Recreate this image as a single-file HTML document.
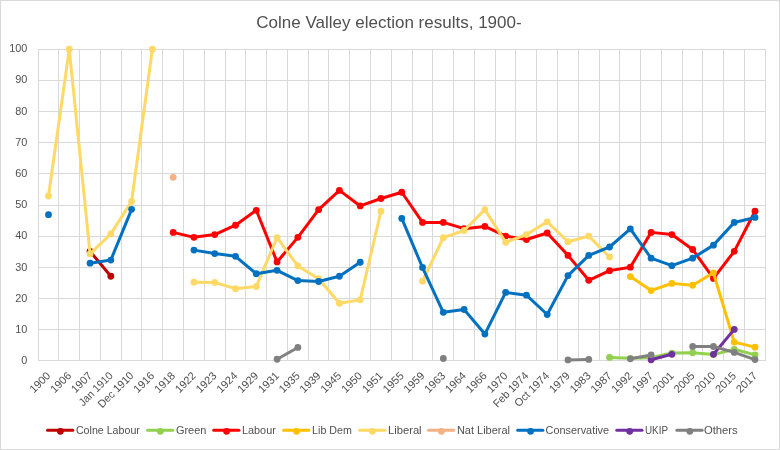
<!DOCTYPE html>
<html><head><meta charset="utf-8"><title>Colne Valley election results</title>
<style>html,body{margin:0;padding:0;background:#fff;}body{width:780px;height:450px;overflow:hidden;}svg{display:block;}</style>
</head><body>
<svg width="780" height="450" viewBox="0 0 780 450">
<rect x="0" y="0" width="780" height="450" fill="#fff"/>
<rect x="0.5" y="0.5" width="779" height="449" fill="none" stroke="#D9D9D9" stroke-width="1"/>
<path d="M38 49.5H766 M38 80.5H766 M38 111.5H766 M38 142.5H766 M38 173.5H766 M38 205.5H766 M38 236.5H766 M38 267.5H766 M38 298.5H766 M38 329.5H766 M38 360.5H766 M38.5 49V360 M58.5 49V360 M79.5 49V360 M100.5 49V360 M121.5 49V360 M141.5 49V360 M162.5 49V360 M183.5 49V360 M204.5 49V360 M225.5 49V360 M245.5 49V360 M266.5 49V360 M287.5 49V360 M308.5 49V360 M328.5 49V360 M349.5 49V360 M370.5 49V360 M391.5 49V360 M412.5 49V360 M432.5 49V360 M453.5 49V360 M474.5 49V360 M495.5 49V360 M515.5 49V360 M536.5 49V360 M557.5 49V360 M578.5 49V360 M599.5 49V360 M619.5 49V360 M640.5 49V360 M661.5 49V360 M682.5 49V360 M702.5 49V360 M723.5 49V360 M744.5 49V360 M765.5 49V360" stroke="#D9D9D9" stroke-width="1" fill="none" shape-rendering="crispEdges"/>
<path d="M90.05 251.35 L110.83 276.23" stroke="#C00000" stroke-width="3.0" fill="none" stroke-linejoin="round" stroke-linecap="round"/>
<circle cx="90.05" cy="251.35" r="3.4" fill="#C00000"/>
<circle cx="110.83" cy="276.23" r="3.4" fill="#C00000"/>
<path d="M609.55 357.40 L630.33 358.33 L651.11 357.71 L671.89 353.05 L692.67 352.74 L713.45 354.60 L734.23 349.31 L755.01 354.91" stroke="#92D050" stroke-width="3.0" fill="none" stroke-linejoin="round" stroke-linecap="round"/>
<circle cx="609.55" cy="357.40" r="3.4" fill="#92D050"/>
<circle cx="630.33" cy="358.33" r="3.4" fill="#92D050"/>
<circle cx="651.11" cy="357.71" r="3.4" fill="#92D050"/>
<circle cx="671.89" cy="353.05" r="3.4" fill="#92D050"/>
<circle cx="692.67" cy="352.74" r="3.4" fill="#92D050"/>
<circle cx="713.45" cy="354.60" r="3.4" fill="#92D050"/>
<circle cx="734.23" cy="349.31" r="3.4" fill="#92D050"/>
<circle cx="755.01" cy="354.91" r="3.4" fill="#92D050"/>
<path d="M173.17 232.38 L193.95 237.35 L214.73 234.56 L235.51 225.23 L256.29 210.30 L277.07 261.92 L297.85 237.35 L318.63 209.68 L339.41 190.39 L360.19 205.94 L380.97 198.48 L401.75 192.26 L422.53 222.43 L443.31 222.43 L464.09 228.65 L484.87 226.47 L505.65 236.11 L526.43 239.53 L547.21 233.00 L567.99 255.39 L588.77 280.27 L609.55 270.63 L630.33 267.21 L651.11 232.38 L671.89 234.56 L692.67 249.48 L713.45 278.41 L734.23 251.35 L755.01 211.23" stroke="#FF0000" stroke-width="3.0" fill="none" stroke-linejoin="round" stroke-linecap="round"/>
<circle cx="173.17" cy="232.38" r="3.4" fill="#FF0000"/>
<circle cx="193.95" cy="237.35" r="3.4" fill="#FF0000"/>
<circle cx="214.73" cy="234.56" r="3.4" fill="#FF0000"/>
<circle cx="235.51" cy="225.23" r="3.4" fill="#FF0000"/>
<circle cx="256.29" cy="210.30" r="3.4" fill="#FF0000"/>
<circle cx="277.07" cy="261.92" r="3.4" fill="#FF0000"/>
<circle cx="297.85" cy="237.35" r="3.4" fill="#FF0000"/>
<circle cx="318.63" cy="209.68" r="3.4" fill="#FF0000"/>
<circle cx="339.41" cy="190.39" r="3.4" fill="#FF0000"/>
<circle cx="360.19" cy="205.94" r="3.4" fill="#FF0000"/>
<circle cx="380.97" cy="198.48" r="3.4" fill="#FF0000"/>
<circle cx="401.75" cy="192.26" r="3.4" fill="#FF0000"/>
<circle cx="422.53" cy="222.43" r="3.4" fill="#FF0000"/>
<circle cx="443.31" cy="222.43" r="3.4" fill="#FF0000"/>
<circle cx="464.09" cy="228.65" r="3.4" fill="#FF0000"/>
<circle cx="484.87" cy="226.47" r="3.4" fill="#FF0000"/>
<circle cx="505.65" cy="236.11" r="3.4" fill="#FF0000"/>
<circle cx="526.43" cy="239.53" r="3.4" fill="#FF0000"/>
<circle cx="547.21" cy="233.00" r="3.4" fill="#FF0000"/>
<circle cx="567.99" cy="255.39" r="3.4" fill="#FF0000"/>
<circle cx="588.77" cy="280.27" r="3.4" fill="#FF0000"/>
<circle cx="609.55" cy="270.63" r="3.4" fill="#FF0000"/>
<circle cx="630.33" cy="267.21" r="3.4" fill="#FF0000"/>
<circle cx="651.11" cy="232.38" r="3.4" fill="#FF0000"/>
<circle cx="671.89" cy="234.56" r="3.4" fill="#FF0000"/>
<circle cx="692.67" cy="249.48" r="3.4" fill="#FF0000"/>
<circle cx="713.45" cy="278.41" r="3.4" fill="#FF0000"/>
<circle cx="734.23" cy="251.35" r="3.4" fill="#FF0000"/>
<circle cx="755.01" cy="211.23" r="3.4" fill="#FF0000"/>
<path d="M630.33 276.54 L651.11 290.54 L671.89 283.38 L692.67 285.25 L713.45 272.81 L734.23 342.16 L755.01 347.14" stroke="#FFC000" stroke-width="3.0" fill="none" stroke-linejoin="round" stroke-linecap="round"/>
<circle cx="630.33" cy="276.54" r="3.4" fill="#FFC000"/>
<circle cx="651.11" cy="290.54" r="3.4" fill="#FFC000"/>
<circle cx="671.89" cy="283.38" r="3.4" fill="#FFC000"/>
<circle cx="692.67" cy="285.25" r="3.4" fill="#FFC000"/>
<circle cx="713.45" cy="272.81" r="3.4" fill="#FFC000"/>
<circle cx="734.23" cy="342.16" r="3.4" fill="#FFC000"/>
<circle cx="755.01" cy="347.14" r="3.4" fill="#FFC000"/>
<path d="M48.49 195.99 L69.27 49.20 L90.05 253.84 L110.83 233.93 L131.61 201.28 L152.39 49.20" stroke="#FFD966" stroke-width="3.0" fill="none" stroke-linejoin="round" stroke-linecap="round"/>
<path d="M193.95 282.14 L214.73 282.45 L235.51 288.67 L256.29 286.49 L277.07 237.67 L297.85 265.97 L318.63 278.72 L339.41 303.29 L360.19 299.87 L380.97 211.23" stroke="#FFD966" stroke-width="3.0" fill="none" stroke-linejoin="round" stroke-linecap="round"/>
<path d="M422.53 281.21 L443.31 237.67 L464.09 230.51 L484.87 209.68 L505.65 242.33 L526.43 234.56 L547.21 221.80 L567.99 241.71 L588.77 236.11 L609.55 256.95" stroke="#FFD966" stroke-width="3.0" fill="none" stroke-linejoin="round" stroke-linecap="round"/>
<circle cx="48.49" cy="195.99" r="3.4" fill="#FFD966"/>
<circle cx="69.27" cy="49.20" r="3.4" fill="#FFD966"/>
<circle cx="90.05" cy="253.84" r="3.4" fill="#FFD966"/>
<circle cx="110.83" cy="233.93" r="3.4" fill="#FFD966"/>
<circle cx="131.61" cy="201.28" r="3.4" fill="#FFD966"/>
<circle cx="152.39" cy="49.20" r="3.4" fill="#FFD966"/>
<circle cx="193.95" cy="282.14" r="3.4" fill="#FFD966"/>
<circle cx="214.73" cy="282.45" r="3.4" fill="#FFD966"/>
<circle cx="235.51" cy="288.67" r="3.4" fill="#FFD966"/>
<circle cx="256.29" cy="286.49" r="3.4" fill="#FFD966"/>
<circle cx="277.07" cy="237.67" r="3.4" fill="#FFD966"/>
<circle cx="297.85" cy="265.97" r="3.4" fill="#FFD966"/>
<circle cx="318.63" cy="278.72" r="3.4" fill="#FFD966"/>
<circle cx="339.41" cy="303.29" r="3.4" fill="#FFD966"/>
<circle cx="360.19" cy="299.87" r="3.4" fill="#FFD966"/>
<circle cx="380.97" cy="211.23" r="3.4" fill="#FFD966"/>
<circle cx="422.53" cy="281.21" r="3.4" fill="#FFD966"/>
<circle cx="443.31" cy="237.67" r="3.4" fill="#FFD966"/>
<circle cx="464.09" cy="230.51" r="3.4" fill="#FFD966"/>
<circle cx="484.87" cy="209.68" r="3.4" fill="#FFD966"/>
<circle cx="505.65" cy="242.33" r="3.4" fill="#FFD966"/>
<circle cx="526.43" cy="234.56" r="3.4" fill="#FFD966"/>
<circle cx="547.21" cy="221.80" r="3.4" fill="#FFD966"/>
<circle cx="567.99" cy="241.71" r="3.4" fill="#FFD966"/>
<circle cx="588.77" cy="236.11" r="3.4" fill="#FFD966"/>
<circle cx="609.55" cy="256.95" r="3.4" fill="#FFD966"/>
<circle cx="173.17" cy="177.33" r="3.4" fill="#F4B183"/>
<path d="M90.05 263.17 L110.83 260.06 L131.61 209.36" stroke="#0070C0" stroke-width="3.0" fill="none" stroke-linejoin="round" stroke-linecap="round"/>
<path d="M193.95 250.11 L214.73 253.53 L235.51 256.33 L256.29 273.74 L277.07 270.32 L297.85 280.58 L318.63 281.52 L339.41 276.23 L360.19 262.24" stroke="#0070C0" stroke-width="3.0" fill="none" stroke-linejoin="round" stroke-linecap="round"/>
<path d="M401.75 218.38 L422.53 267.52 L443.31 312.31 L464.09 309.51 L484.87 334.08 L505.65 292.40 L526.43 295.20 L547.21 314.48 L567.99 275.61 L588.77 255.39 L609.55 247.00 L630.33 228.96 L651.11 258.19 L671.89 265.66 L692.67 258.19 L713.45 245.13 L734.23 222.43 L755.01 217.45" stroke="#0070C0" stroke-width="3.0" fill="none" stroke-linejoin="round" stroke-linecap="round"/>
<circle cx="48.49" cy="214.65" r="3.4" fill="#0070C0"/>
<circle cx="90.05" cy="263.17" r="3.4" fill="#0070C0"/>
<circle cx="110.83" cy="260.06" r="3.4" fill="#0070C0"/>
<circle cx="131.61" cy="209.36" r="3.4" fill="#0070C0"/>
<circle cx="193.95" cy="250.11" r="3.4" fill="#0070C0"/>
<circle cx="214.73" cy="253.53" r="3.4" fill="#0070C0"/>
<circle cx="235.51" cy="256.33" r="3.4" fill="#0070C0"/>
<circle cx="256.29" cy="273.74" r="3.4" fill="#0070C0"/>
<circle cx="277.07" cy="270.32" r="3.4" fill="#0070C0"/>
<circle cx="297.85" cy="280.58" r="3.4" fill="#0070C0"/>
<circle cx="318.63" cy="281.52" r="3.4" fill="#0070C0"/>
<circle cx="339.41" cy="276.23" r="3.4" fill="#0070C0"/>
<circle cx="360.19" cy="262.24" r="3.4" fill="#0070C0"/>
<circle cx="401.75" cy="218.38" r="3.4" fill="#0070C0"/>
<circle cx="422.53" cy="267.52" r="3.4" fill="#0070C0"/>
<circle cx="443.31" cy="312.31" r="3.4" fill="#0070C0"/>
<circle cx="464.09" cy="309.51" r="3.4" fill="#0070C0"/>
<circle cx="484.87" cy="334.08" r="3.4" fill="#0070C0"/>
<circle cx="505.65" cy="292.40" r="3.4" fill="#0070C0"/>
<circle cx="526.43" cy="295.20" r="3.4" fill="#0070C0"/>
<circle cx="547.21" cy="314.48" r="3.4" fill="#0070C0"/>
<circle cx="567.99" cy="275.61" r="3.4" fill="#0070C0"/>
<circle cx="588.77" cy="255.39" r="3.4" fill="#0070C0"/>
<circle cx="609.55" cy="247.00" r="3.4" fill="#0070C0"/>
<circle cx="630.33" cy="228.96" r="3.4" fill="#0070C0"/>
<circle cx="651.11" cy="258.19" r="3.4" fill="#0070C0"/>
<circle cx="671.89" cy="265.66" r="3.4" fill="#0070C0"/>
<circle cx="692.67" cy="258.19" r="3.4" fill="#0070C0"/>
<circle cx="713.45" cy="245.13" r="3.4" fill="#0070C0"/>
<circle cx="734.23" cy="222.43" r="3.4" fill="#0070C0"/>
<circle cx="755.01" cy="217.45" r="3.4" fill="#0070C0"/>
<path d="M651.11 359.73 L671.89 354.29" stroke="#7030A0" stroke-width="3.0" fill="none" stroke-linejoin="round" stroke-linecap="round"/>
<path d="M713.45 354.29 L734.23 329.41" stroke="#7030A0" stroke-width="3.0" fill="none" stroke-linejoin="round" stroke-linecap="round"/>
<circle cx="651.11" cy="359.73" r="3.4" fill="#7030A0"/>
<circle cx="671.89" cy="354.29" r="3.4" fill="#7030A0"/>
<circle cx="713.45" cy="354.29" r="3.4" fill="#7030A0"/>
<circle cx="734.23" cy="329.41" r="3.4" fill="#7030A0"/>
<path d="M277.07 359.27 L297.85 347.45" stroke="#808080" stroke-width="3.0" fill="none" stroke-linejoin="round" stroke-linecap="round"/>
<path d="M567.99 359.89 L588.77 359.42" stroke="#808080" stroke-width="3.0" fill="none" stroke-linejoin="round" stroke-linecap="round"/>
<path d="M630.33 358.80 L651.11 354.91" stroke="#808080" stroke-width="3.0" fill="none" stroke-linejoin="round" stroke-linecap="round"/>
<path d="M692.67 346.52 L713.45 346.52 L734.23 352.43 L755.01 359.58" stroke="#808080" stroke-width="3.0" fill="none" stroke-linejoin="round" stroke-linecap="round"/>
<circle cx="277.07" cy="359.27" r="3.4" fill="#808080"/>
<circle cx="297.85" cy="347.45" r="3.4" fill="#808080"/>
<circle cx="443.31" cy="358.49" r="3.4" fill="#808080"/>
<circle cx="567.99" cy="359.89" r="3.4" fill="#808080"/>
<circle cx="588.77" cy="359.42" r="3.4" fill="#808080"/>
<circle cx="630.33" cy="358.80" r="3.4" fill="#808080"/>
<circle cx="651.11" cy="354.91" r="3.4" fill="#808080"/>
<circle cx="692.67" cy="346.52" r="3.4" fill="#808080"/>
<circle cx="713.45" cy="346.52" r="3.4" fill="#808080"/>
<circle cx="734.23" cy="352.43" r="3.4" fill="#808080"/>
<circle cx="755.01" cy="359.58" r="3.4" fill="#808080"/>
<path d="M47.5 430.3H72.7" stroke="#C00000" stroke-width="3.0" stroke-linecap="round"/>
<circle cx="60.40" cy="431.3" r="3.4" fill="#C00000"/>
<path d="M147.5 430.3H172.7" stroke="#92D050" stroke-width="3.0" stroke-linecap="round"/>
<circle cx="160.40" cy="431.3" r="3.4" fill="#92D050"/>
<path d="M213.7 430.3H238.9" stroke="#FF0000" stroke-width="3.0" stroke-linecap="round"/>
<circle cx="226.60" cy="431.3" r="3.4" fill="#FF0000"/>
<path d="M283.6 430.3H308.8" stroke="#FFC000" stroke-width="3.0" stroke-linecap="round"/>
<circle cx="296.50" cy="431.3" r="3.4" fill="#FFC000"/>
<path d="M359.5 430.3H384.7" stroke="#FFD966" stroke-width="3.0" stroke-linecap="round"/>
<circle cx="372.40" cy="431.3" r="3.4" fill="#FFD966"/>
<path d="M428.5 430.3H453.7" stroke="#F4B183" stroke-width="3.0" stroke-linecap="round"/>
<circle cx="441.40" cy="431.3" r="3.4" fill="#F4B183"/>
<path d="M517.7 430.3H542.9" stroke="#0070C0" stroke-width="3.0" stroke-linecap="round"/>
<circle cx="530.60" cy="431.3" r="3.4" fill="#0070C0"/>
<path d="M616.8 430.3H642.0" stroke="#7030A0" stroke-width="3.0" stroke-linecap="round"/>
<circle cx="629.70" cy="431.3" r="3.4" fill="#7030A0"/>
<path d="M676.9 430.3H702.1" stroke="#808080" stroke-width="3.0" stroke-linecap="round"/>
<circle cx="689.80" cy="431.3" r="3.4" fill="#808080"/>
<g style="will-change:transform"><text x="256.2" y="27.7" textLength="265.5" lengthAdjust="spacingAndGlyphs" font-family="'Liberation Sans', Arial, sans-serif" font-size="16.6" fill="#505050">Colne Valley election results, 1900-</text><text x="27.3" y="364.10" text-anchor="end" font-family="'Liberation Sans', Arial, sans-serif" font-size="10.9" fill="#505050">0</text><text x="27.3" y="332.92" text-anchor="end" font-family="'Liberation Sans', Arial, sans-serif" font-size="10.9" fill="#505050">10</text><text x="27.3" y="301.74" text-anchor="end" font-family="'Liberation Sans', Arial, sans-serif" font-size="10.9" fill="#505050">20</text><text x="27.3" y="270.56" text-anchor="end" font-family="'Liberation Sans', Arial, sans-serif" font-size="10.9" fill="#505050">30</text><text x="27.3" y="239.38" text-anchor="end" font-family="'Liberation Sans', Arial, sans-serif" font-size="10.9" fill="#505050">40</text><text x="27.3" y="208.20" text-anchor="end" font-family="'Liberation Sans', Arial, sans-serif" font-size="10.9" fill="#505050">50</text><text x="27.3" y="177.02" text-anchor="end" font-family="'Liberation Sans', Arial, sans-serif" font-size="10.9" fill="#505050">60</text><text x="27.3" y="145.84" text-anchor="end" font-family="'Liberation Sans', Arial, sans-serif" font-size="10.9" fill="#505050">70</text><text x="27.3" y="114.66" text-anchor="end" font-family="'Liberation Sans', Arial, sans-serif" font-size="10.9" fill="#505050">80</text><text x="27.3" y="83.48" text-anchor="end" font-family="'Liberation Sans', Arial, sans-serif" font-size="10.9" fill="#505050">90</text><text x="27.3" y="52.30" text-anchor="end" font-family="'Liberation Sans', Arial, sans-serif" font-size="10.9" fill="#505050">100</text><text transform="translate(45.79 371.00) rotate(-45)" text-anchor="end" dy="7.6" textLength="24.34" lengthAdjust="spacingAndGlyphs" font-family="'Liberation Sans', Arial, sans-serif" font-size="11" fill="#505050">1900</text><text transform="translate(66.57 371.00) rotate(-45)" text-anchor="end" dy="7.6" textLength="24.34" lengthAdjust="spacingAndGlyphs" font-family="'Liberation Sans', Arial, sans-serif" font-size="11" fill="#505050">1906</text><text transform="translate(87.35 371.00) rotate(-45)" text-anchor="end" dy="7.6" textLength="24.34" lengthAdjust="spacingAndGlyphs" font-family="'Liberation Sans', Arial, sans-serif" font-size="11" fill="#505050">1907</text><text transform="translate(108.13 371.00) rotate(-45)" text-anchor="end" dy="7.6" textLength="42.92" lengthAdjust="spacingAndGlyphs" font-family="'Liberation Sans', Arial, sans-serif" font-size="11" fill="#505050">Jan 1910</text><text transform="translate(128.91 371.00) rotate(-45)" text-anchor="end" dy="7.6" textLength="45.48" lengthAdjust="spacingAndGlyphs" font-family="'Liberation Sans', Arial, sans-serif" font-size="11" fill="#505050">Dec 1910</text><text transform="translate(149.69 371.00) rotate(-45)" text-anchor="end" dy="7.6" textLength="24.34" lengthAdjust="spacingAndGlyphs" font-family="'Liberation Sans', Arial, sans-serif" font-size="11" fill="#505050">1916</text><text transform="translate(170.47 371.00) rotate(-45)" text-anchor="end" dy="7.6" textLength="24.34" lengthAdjust="spacingAndGlyphs" font-family="'Liberation Sans', Arial, sans-serif" font-size="11" fill="#505050">1918</text><text transform="translate(191.25 371.00) rotate(-45)" text-anchor="end" dy="7.6" textLength="24.34" lengthAdjust="spacingAndGlyphs" font-family="'Liberation Sans', Arial, sans-serif" font-size="11" fill="#505050">1922</text><text transform="translate(212.03 371.00) rotate(-45)" text-anchor="end" dy="7.6" textLength="24.34" lengthAdjust="spacingAndGlyphs" font-family="'Liberation Sans', Arial, sans-serif" font-size="11" fill="#505050">1923</text><text transform="translate(232.81 371.00) rotate(-45)" text-anchor="end" dy="7.6" textLength="24.34" lengthAdjust="spacingAndGlyphs" font-family="'Liberation Sans', Arial, sans-serif" font-size="11" fill="#505050">1924</text><text transform="translate(253.59 371.00) rotate(-45)" text-anchor="end" dy="7.6" textLength="24.34" lengthAdjust="spacingAndGlyphs" font-family="'Liberation Sans', Arial, sans-serif" font-size="11" fill="#505050">1929</text><text transform="translate(274.37 371.00) rotate(-45)" text-anchor="end" dy="7.6" textLength="24.34" lengthAdjust="spacingAndGlyphs" font-family="'Liberation Sans', Arial, sans-serif" font-size="11" fill="#505050">1931</text><text transform="translate(295.15 371.00) rotate(-45)" text-anchor="end" dy="7.6" textLength="24.34" lengthAdjust="spacingAndGlyphs" font-family="'Liberation Sans', Arial, sans-serif" font-size="11" fill="#505050">1935</text><text transform="translate(315.93 371.00) rotate(-45)" text-anchor="end" dy="7.6" textLength="24.34" lengthAdjust="spacingAndGlyphs" font-family="'Liberation Sans', Arial, sans-serif" font-size="11" fill="#505050">1939</text><text transform="translate(336.71 371.00) rotate(-45)" text-anchor="end" dy="7.6" textLength="24.34" lengthAdjust="spacingAndGlyphs" font-family="'Liberation Sans', Arial, sans-serif" font-size="11" fill="#505050">1945</text><text transform="translate(357.49 371.00) rotate(-45)" text-anchor="end" dy="7.6" textLength="24.34" lengthAdjust="spacingAndGlyphs" font-family="'Liberation Sans', Arial, sans-serif" font-size="11" fill="#505050">1950</text><text transform="translate(378.27 371.00) rotate(-45)" text-anchor="end" dy="7.6" textLength="24.34" lengthAdjust="spacingAndGlyphs" font-family="'Liberation Sans', Arial, sans-serif" font-size="11" fill="#505050">1951</text><text transform="translate(399.05 371.00) rotate(-45)" text-anchor="end" dy="7.6" textLength="24.34" lengthAdjust="spacingAndGlyphs" font-family="'Liberation Sans', Arial, sans-serif" font-size="11" fill="#505050">1955</text><text transform="translate(419.83 371.00) rotate(-45)" text-anchor="end" dy="7.6" textLength="24.34" lengthAdjust="spacingAndGlyphs" font-family="'Liberation Sans', Arial, sans-serif" font-size="11" fill="#505050">1959</text><text transform="translate(440.61 371.00) rotate(-45)" text-anchor="end" dy="7.6" textLength="24.34" lengthAdjust="spacingAndGlyphs" font-family="'Liberation Sans', Arial, sans-serif" font-size="11" fill="#505050">1963</text><text transform="translate(461.39 371.00) rotate(-45)" text-anchor="end" dy="7.6" textLength="24.34" lengthAdjust="spacingAndGlyphs" font-family="'Liberation Sans', Arial, sans-serif" font-size="11" fill="#505050">1964</text><text transform="translate(482.17 371.00) rotate(-45)" text-anchor="end" dy="7.6" textLength="24.34" lengthAdjust="spacingAndGlyphs" font-family="'Liberation Sans', Arial, sans-serif" font-size="11" fill="#505050">1966</text><text transform="translate(502.95 371.00) rotate(-45)" text-anchor="end" dy="7.6" textLength="24.34" lengthAdjust="spacingAndGlyphs" font-family="'Liberation Sans', Arial, sans-serif" font-size="11" fill="#505050">1970</text><text transform="translate(523.73 371.00) rotate(-45)" text-anchor="end" dy="7.6" textLength="44.83" lengthAdjust="spacingAndGlyphs" font-family="'Liberation Sans', Arial, sans-serif" font-size="11" fill="#505050">Feb 1974</text><text transform="translate(544.51 371.00) rotate(-45)" text-anchor="end" dy="7.6" textLength="44.09" lengthAdjust="spacingAndGlyphs" font-family="'Liberation Sans', Arial, sans-serif" font-size="11" fill="#505050">Oct 1974</text><text transform="translate(565.29 371.00) rotate(-45)" text-anchor="end" dy="7.6" textLength="24.34" lengthAdjust="spacingAndGlyphs" font-family="'Liberation Sans', Arial, sans-serif" font-size="11" fill="#505050">1979</text><text transform="translate(586.07 371.00) rotate(-45)" text-anchor="end" dy="7.6" textLength="24.34" lengthAdjust="spacingAndGlyphs" font-family="'Liberation Sans', Arial, sans-serif" font-size="11" fill="#505050">1983</text><text transform="translate(606.85 371.00) rotate(-45)" text-anchor="end" dy="7.6" textLength="24.34" lengthAdjust="spacingAndGlyphs" font-family="'Liberation Sans', Arial, sans-serif" font-size="11" fill="#505050">1987</text><text transform="translate(627.63 371.00) rotate(-45)" text-anchor="end" dy="7.6" textLength="24.34" lengthAdjust="spacingAndGlyphs" font-family="'Liberation Sans', Arial, sans-serif" font-size="11" fill="#505050">1992</text><text transform="translate(648.41 371.00) rotate(-45)" text-anchor="end" dy="7.6" textLength="24.34" lengthAdjust="spacingAndGlyphs" font-family="'Liberation Sans', Arial, sans-serif" font-size="11" fill="#505050">1997</text><text transform="translate(669.19 371.00) rotate(-45)" text-anchor="end" dy="7.6" textLength="24.34" lengthAdjust="spacingAndGlyphs" font-family="'Liberation Sans', Arial, sans-serif" font-size="11" fill="#505050">2001</text><text transform="translate(689.97 371.00) rotate(-45)" text-anchor="end" dy="7.6" textLength="24.34" lengthAdjust="spacingAndGlyphs" font-family="'Liberation Sans', Arial, sans-serif" font-size="11" fill="#505050">2005</text><text transform="translate(710.75 371.00) rotate(-45)" text-anchor="end" dy="7.6" textLength="24.34" lengthAdjust="spacingAndGlyphs" font-family="'Liberation Sans', Arial, sans-serif" font-size="11" fill="#505050">2010</text><text transform="translate(731.53 371.00) rotate(-45)" text-anchor="end" dy="7.6" textLength="24.34" lengthAdjust="spacingAndGlyphs" font-family="'Liberation Sans', Arial, sans-serif" font-size="11" fill="#505050">2015</text><text transform="translate(752.31 371.00) rotate(-45)" text-anchor="end" dy="7.6" textLength="24.34" lengthAdjust="spacingAndGlyphs" font-family="'Liberation Sans', Arial, sans-serif" font-size="11" fill="#505050">2017</text><text x="75.9" y="433.8" textLength="64.0" lengthAdjust="spacingAndGlyphs" font-family="'Liberation Sans', Arial, sans-serif" font-size="10.75" fill="#505050">Colne Labour</text><text x="175.9" y="433.8" textLength="30.5" lengthAdjust="spacingAndGlyphs" font-family="'Liberation Sans', Arial, sans-serif" font-size="10.75" fill="#505050">Green</text><text x="242.0" y="433.8" textLength="33.8" lengthAdjust="spacingAndGlyphs" font-family="'Liberation Sans', Arial, sans-serif" font-size="10.75" fill="#505050">Labour</text><text x="312.1" y="433.8" textLength="39.7" lengthAdjust="spacingAndGlyphs" font-family="'Liberation Sans', Arial, sans-serif" font-size="10.75" fill="#505050">Lib Dem</text><text x="388.0" y="433.8" textLength="33.6" lengthAdjust="spacingAndGlyphs" font-family="'Liberation Sans', Arial, sans-serif" font-size="10.75" fill="#505050">Liberal</text><text x="456.9" y="433.8" textLength="53.1" lengthAdjust="spacingAndGlyphs" font-family="'Liberation Sans', Arial, sans-serif" font-size="10.75" fill="#505050">Nat Liberal</text><text x="545.6" y="433.8" textLength="63.5" lengthAdjust="spacingAndGlyphs" font-family="'Liberation Sans', Arial, sans-serif" font-size="10.75" fill="#505050">Conservative</text><text x="645.0" y="433.8" textLength="23.0" lengthAdjust="spacingAndGlyphs" font-family="'Liberation Sans', Arial, sans-serif" font-size="10.75" fill="#505050">UKIP</text><text x="703.9" y="433.8" textLength="33.8" lengthAdjust="spacingAndGlyphs" font-family="'Liberation Sans', Arial, sans-serif" font-size="10.75" fill="#505050">Others</text></g>
</svg>
</body></html>
